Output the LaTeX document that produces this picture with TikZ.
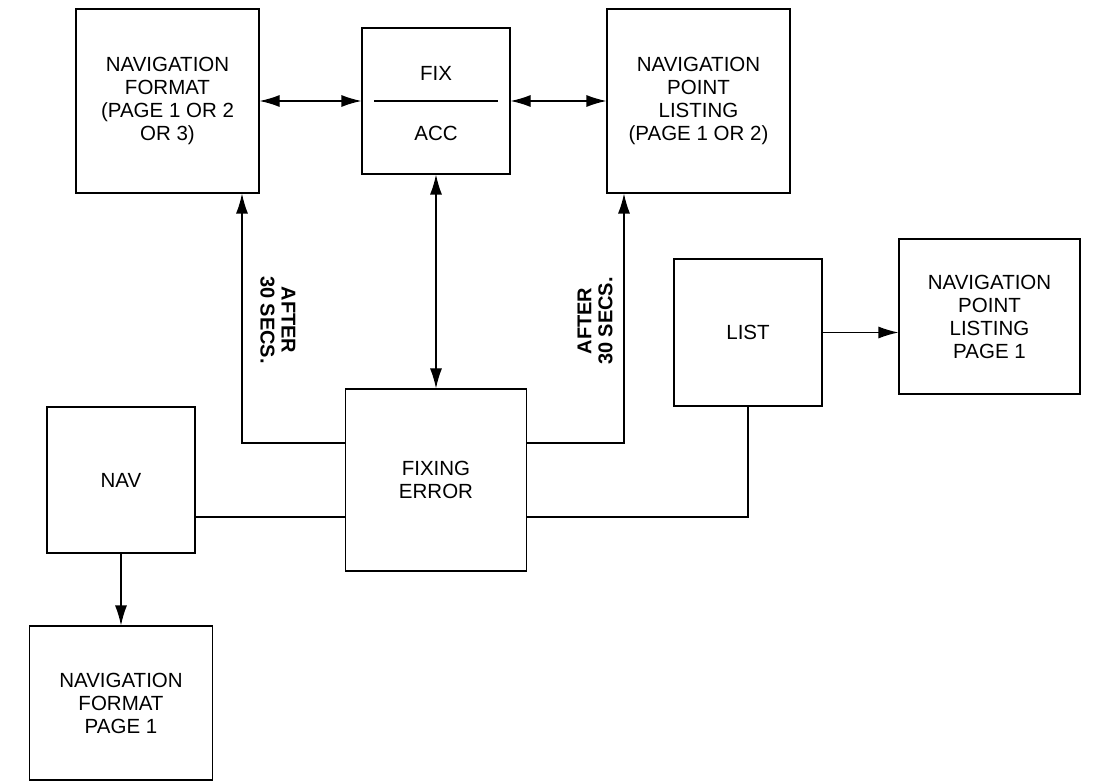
\documentclass[tikz,border=0pt]{standalone}
\usepackage{fontspec}
\setmainfont{Liberation Sans}
\usetikzlibrary{arrows.meta}

\begin{document}
\begin{tikzpicture}[x=1pt, y=-1pt, line width=1.2pt,
    txt/.style={align=center, font=\fontsize{20.5}{23}\selectfont},
    box/.style={txt, draw, inner sep=0pt},
    lbl/.style={align=center, font=\fontsize{20}{21}\selectfont\bfseries},
    arr/.style={-{Latex[length=20pt,width=12pt]}},
    dbl/.style={{Latex[length=20pt,width=12pt]}-{Latex[length=20pt,width=12pt]}}]
    \useasboundingbox (0,0) rectangle (1095,783);

    % Boxes
    \node[box, minimum width=183pt, minimum height=184pt] (navfmt) at (167.5,101) {NAVIGATION\\FORMAT\\(PAGE 1 OR 2\\OR 3)};
    \node[box, minimum width=148pt, minimum height=146pt] (fix) at (436,101) {};
    \node[box, minimum width=183pt, minimum height=184pt] (nptlst) at (698.5,101) {NAVIGATION\\POINT\\LISTING\\(PAGE 1 OR 2)};
    \node[box, minimum width=148pt, minimum height=147pt] (list) at (748,332.5) {LIST};
    \node[box, minimum width=181pt, minimum height=155pt] (nptpg) at (989.5,316.5) {NAVIGATION\\POINT\\LISTING\\PAGE 1};
    \node[box, minimum width=181pt, minimum height=182pt] (fixerr) at (436,480) {FIXING\\ERROR};
    \node[box, minimum width=148pt, minimum height=146pt] (nav) at (121,480) {NAV};
    \node[box, minimum width=183pt, minimum height=154pt] (navpg) at (121,703) {NAVIGATION\\FORMAT\\PAGE 1};

    % FIX / ACC
    \node[txt] (fixtxt) at (436,73) {FIX};
    \node[txt] (acctxt) at (436,133) {ACC};
    \draw ([xshift=13pt]fix.west) -- ([xshift=-13pt]fix.east);

    % Edges
    \coordinate (cl) at (242,443);
    \coordinate (cr) at (624,443);
    \coordinate (bus) at (748,517);
    \draw[dbl] (navfmt) -- (fix);
    \draw[dbl] (fix) -- (nptlst);
    \draw[dbl] (fix) -- (fixerr);
    \draw[arr] (fixerr.west |- cl) -- (cl) -- (cl |- navfmt.south);
    \draw[arr] (fixerr.east |- cr) -- (cr) -- (cr |- nptlst.south);
    \draw (nav.east |- bus) -- (fixerr.west |- bus);
    \draw (fixerr.east |- bus) -- (bus) -- (list);
    \draw[arr] (list) -- (list -| nptpg.west);
    \draw[arr] (nav) -- (navpg);

    % Labels
    \node[lbl, rotate=-90] (afterl) at (278,320) {AFTER\\30 SECS.};
    \node[lbl, rotate=90] (afterr) at (595,321) {AFTER\\30 SECS.};
\end{tikzpicture}
\end{document}
